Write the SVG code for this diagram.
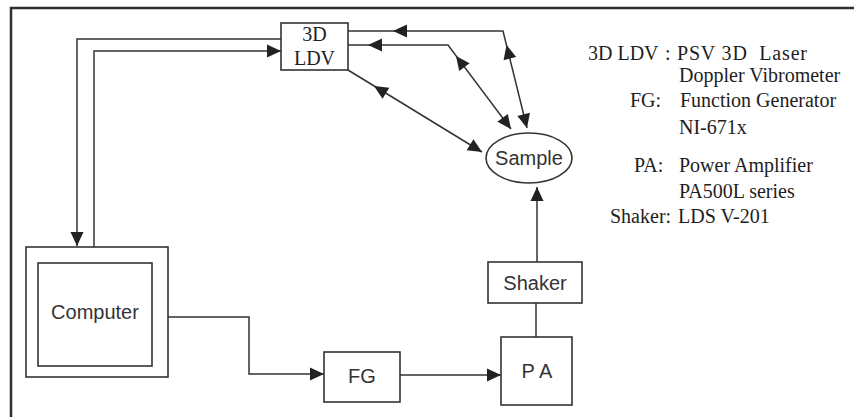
<svg xmlns="http://www.w3.org/2000/svg" xmlns:xlink="http://www.w3.org/1999/xlink" width="854" height="417" viewBox="0 0 854 417">
  <style>
    .box { fill: #fff; stroke: #333; stroke-width: 1.6; }
    .wire { fill: none; stroke: #333; stroke-width: 1.5; }
    .sans { font-family: "Liberation Sans", Arial, sans-serif; font-size: 20px; fill: #333; text-anchor: middle; }
    .serif { font-family: "Liberation Serif", "Times New Roman", serif; font-size: 20px; fill: #1e1e1e; white-space: pre; }
    .head { fill: #222; }
  </style>
  <defs>
    <!-- arrowhead with its tip at the origin, pointing along +x -->
    <path id="ah" class="head" d="M0,0 L-14,-6.5 L-14,6.5 Z"/>
  </defs>

  <rect width="854" height="417" fill="#fff"/>
  <!-- frame -->
  <path d="M11,417 V8 H854" fill="none" stroke="#2b2e33" stroke-width="2.5"/>

  <g id="connectors">
    <path class="wire" d="M77,246 V39 H281"/>
    <use xlink:href="#ah" transform="translate(77,246) rotate(90)"/>
    <path class="wire" d="M94,247 V51 H281"/>
    <use xlink:href="#ah" transform="translate(281,51)"/>

    <path class="wire" d="M348,31 H503 L527,128"/>
    <use xlink:href="#ah" transform="translate(393,31) rotate(180)"/>
    <use xlink:href="#ah" transform="translate(506.5,45) rotate(256.1)"/>
    <use xlink:href="#ah" transform="translate(527,128) rotate(76.1)"/>

    <path class="wire" d="M348,45 H448 L511,129"/>
    <use xlink:href="#ah" transform="translate(368,45) rotate(180)"/>
    <use xlink:href="#ah" transform="translate(456,56) rotate(233.1)"/>
    <use xlink:href="#ah" transform="translate(511,129) rotate(53.1)"/>

    <path class="wire" d="M348,70 L482,152"/>
    <use xlink:href="#ah" transform="translate(374,86) rotate(211.5)"/>
    <use xlink:href="#ah" transform="translate(482,152) rotate(31.5)"/>

    <path class="wire" d="M537,262 V187"/>
    <use xlink:href="#ah" transform="translate(537,187) rotate(-90)"/>

    <path class="wire" d="M536,303 V337"/>

    <path class="wire" d="M400,375 H501"/>
    <use xlink:href="#ah" transform="translate(501,375)"/>

    <path class="wire" d="M168,317 H249 V374 H324"/>
    <use xlink:href="#ah" transform="translate(324,374)"/>
  </g>

  <g id="ldv">
    <rect class="box" x="281" y="23" width="67" height="47"/>
    <text class="serif" x="314.5" y="41" text-anchor="middle">3D</text>
    <text class="serif" x="314.5" y="65" text-anchor="middle">LDV</text>
  </g>

  <g id="sample">
    <ellipse class="box" cx="529" cy="158" rx="43" ry="25"/>
    <text class="sans" x="529" y="165">Sample</text>
  </g>

  <g id="computer">
    <rect class="box" x="26" y="247" width="142" height="130"/>
    <rect class="box" x="38" y="263" width="114" height="103"/>
    <text class="sans" x="95" y="319">Computer</text>
  </g>

  <g id="fg">
    <rect class="box" x="324" y="352" width="76" height="50"/>
    <text class="sans" x="362" y="383">FG</text>
  </g>

  <g id="pa">
    <rect class="box" x="501" y="337" width="71" height="68"/>
    <text class="sans" x="537" y="378">P A</text>
  </g>

  <g id="shaker">
    <rect class="box" x="488" y="262" width="94" height="41"/>
    <text class="sans" x="535" y="290">Shaker</text>
  </g>

  <g id="legend">
    <text class="serif" x="588" y="60">3D LDV</text>
    <text class="serif" x="665" y="60">:</text>
    <text class="serif" x="677" y="60" textLength="130">PSV 3D  Laser</text>
    <text class="serif" x="679" y="82">Doppler Vibrometer</text>
    <text class="serif" x="630" y="107">FG:</text>
    <text class="serif" x="680" y="107">Function Generator</text>
    <text class="serif" x="679" y="134">NI-671x</text>
    <text class="serif" x="634" y="172">PA:</text>
    <text class="serif" x="679" y="172">Power Amplifier</text>
    <text class="serif" x="679" y="198">PA500L series</text>
    <text class="serif" x="610" y="223">Shaker:</text>
    <text class="serif" x="678" y="223">LDS V-201</text>
  </g>
</svg>
